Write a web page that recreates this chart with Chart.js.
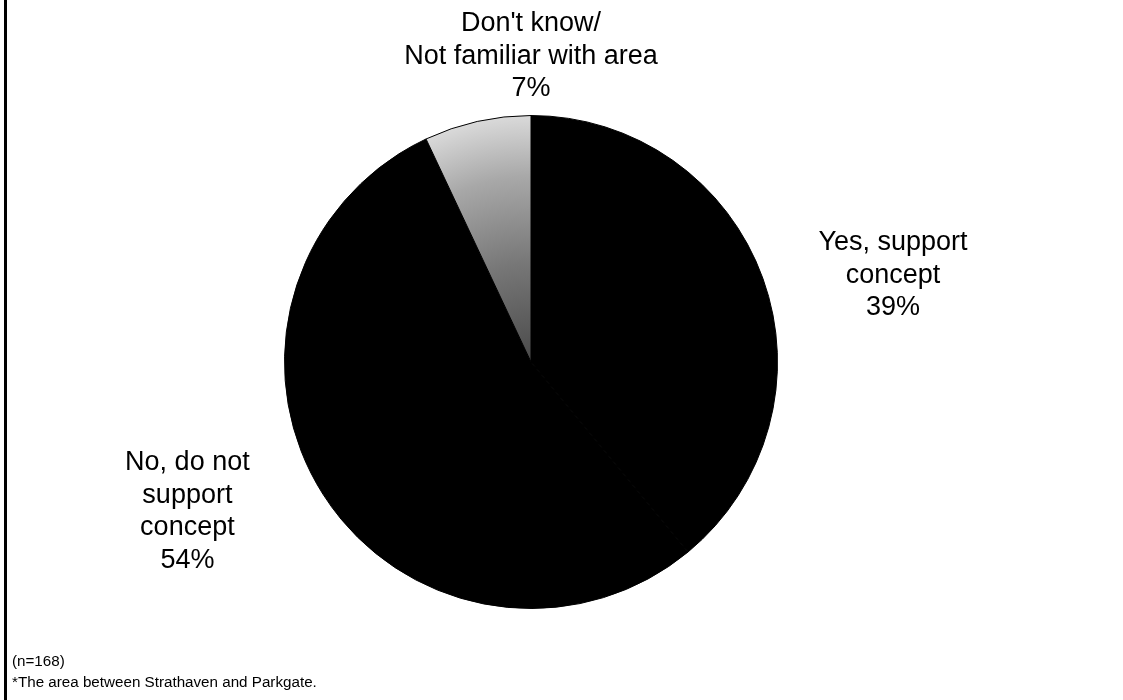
<!DOCTYPE html>
<html>
<head>
<meta charset="utf-8">
<script src="https://cdn.jsdelivr.net/npm/chart.js@4.4.0/dist/chart.umd.min.js"></script>
<style>
  html, body { margin: 0; padding: 0; background: #fff; }
  #wrap { position: relative; width: 1123px; height: 700px; overflow: hidden; }
  #frame { position: absolute; left: 4px; top: 0; width: 3px; height: 700px; background: #000; }
  #notes { position: absolute; left: 12px; top: 650px; font: 15.2px "Liberation Sans", Arial, sans-serif; line-height: 21px; color: #000; }
</style>
</head>
<body>
<div id="wrap">
  <canvas id="surveyChart" width="1123" height="700"></canvas>
  <div id="frame"></div>
  <div id="notes">(n=168)<br>*The area between Strathaven and Parkgate.</div>
</div>
<script>
// data
const labels = [
    ['Yes, support', 'concept'],
    ['No, do not', 'support', 'concept'],
    ["Don't know/", 'Not familiar with area']
];
const percentages = [39, 54, 7];

// where each label sits: angle from 12 o'clock (deg, clockwise) and distance in radii
const labelSpots = [
    { angle: 76.5, dist: 1.51 },
    { angle: 246.5, dist: 1.52 },
    { angle: 0, dist: 1.24 }
];

// grey fill for the small slice, darker towards the middle
const sliceFill = (context) => {
    if (context.dataIndex !== 2) return '#000';
    const area = context.chart.chartArea;
    if (!area) return '#999';
    const x = (area.left + area.right) / 2;
    const y = (area.top + area.bottom) / 2;
    const r = Math.min(area.right - area.left, area.bottom - area.top) / 2;
    const g = context.chart.ctx.createRadialGradient(x, y, 0, x, y, r);
    g.addColorStop(0, '#4a4a4a');
    g.addColorStop(0.4, '#777');
    g.addColorStop(0.75, '#a8a8a8');
    g.addColorStop(1, '#dadada');
    return g;
};

const sliceLabels = {
    id: 'sliceLabels',
    afterDraw(chart) {
        const ctx = chart.ctx;
        const arcs = chart.getDatasetMeta(0).data;
        ctx.save();
        ctx.font = '27px "Liberation Sans", Arial, sans-serif';
        ctx.fillStyle = '#000';
        ctx.textAlign = 'center';
        ctx.textBaseline = 'middle';
        arcs.forEach((arc, i) => {
            const spot = labelSpots[i];
            const a = spot.angle * Math.PI / 180;
            const cx = arc.x + Math.sin(a) * arc.outerRadius * spot.dist;
            const cy = arc.y - Math.cos(a) * arc.outerRadius * spot.dist;
            const lines = labels[i].concat([percentages[i] + '%']);
            const lh = 32.5;
            const top = cy - (lines.length - 1) * lh / 2;
            lines.forEach((l, j) => ctx.fillText(l, cx, top + j * lh));
        });
        ctx.restore();
    }
};

var ctx = document.getElementById('surveyChart').getContext('2d');
var surveyPie = new Chart(ctx, {
    type: 'pie',
    data: {
        labels: labels.map(l => l.join(' ')),
        datasets: [{
            data: percentages,
            backgroundColor: sliceFill,
            borderColor: '#000',
            borderWidth: 1
        }]
    },
    options: {
        responsive: false,
        animation: false,
        layout: { padding: { left: 284, right: 345, top: 115, bottom: 91 } },
        plugins: {
            legend: { display: false },
            tooltip: { enabled: false }
        }
    },
    plugins: [sliceLabels]
});
</script>
</body>
</html>
